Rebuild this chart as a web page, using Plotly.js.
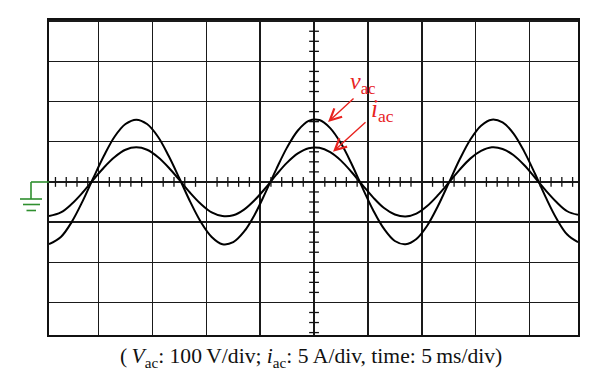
<!DOCTYPE html>
<html>
<head>
<meta charset="utf-8">
<script src="https://cdn.plot.ly/plotly-3.0.1.min.js"></script>
<style>html,body{margin:0;padding:0;background:#fff;}#chart{width:600px;height:391px;}</style>
</head>
<body>
<div id="chart"></div>
<script>
// time in ms (5 ms/div), amplitudes in divisions
var timeMs = [-24.6,-23.5,-22.5,-21.5,-20.5,-19.5,-18.5,-17.5,-16.5,-15.5,-14.5,-13.5,-12.5,-11.5,-10.5,-9.5,-8.5,-7.5,-6.5,-5.5,-4.5,-3.5,-2.5,-1.5,-0.5,0.5,1.5,2.5,3.5,4.5,5.5,6.5,7.5,8.5,9.5,10.5,11.5,12.5,13.5,14.5,15.5,16.5,17.5,18.5,19.5,20.5,21.5,22.5,23.5,24.5];
var vacDiv = [-1.55,-1.37,-1.00,-0.49,0.09,0.65,1.13,1.44,1.55,1.44,1.13,0.65,0.09,-0.49,-1.00,-1.37,-1.55,-1.50,-1.24,-0.81,-0.26,0.32,0.86,1.28,1.52,1.54,1.34,0.96,0.44,-0.15,-0.71,-1.17,-1.47,-1.55,-1.42,-1.09,-0.60,-0.03,0.55,1.05,1.40,1.55,1.48,1.21,0.76,0.21,-0.38,-0.91,-1.31,-1.50];
var iacDiv = [-0.85,-0.76,-0.55,-0.27,0.05,0.36,0.62,0.80,0.86,0.80,0.62,0.36,0.05,-0.27,-0.55,-0.76,-0.85,-0.83,-0.69,-0.45,-0.15,0.18,0.48,0.71,0.84,0.85,0.74,0.53,0.24,-0.08,-0.39,-0.65,-0.81,-0.86,-0.79,-0.60,-0.33,-0.02,0.30,0.58,0.77,0.86,0.82,0.67,0.42,0.11,-0.21,-0.50,-0.73,-0.82];

// minor tick positions on the centre graticule lines
var hTickX = [-24,-23,-22,-21,-19,-18,-17,-16,-14,-13,-12,-11,-9,-8,-7,-6,-4,-3,-2,-1,1,2,3,4,6,7,8,9,11,12,13,14,16,17,18,19,21,22,23,24];
var vTickY = [-3.75,-3.5,-3.25,-2.75,-2.5,-2.25,-1.75,-1.5,-1.25,-0.75,-0.5,-0.25,0.25,0.5,0.75,1.25,1.5,1.75,2.25,2.5,2.75,3.25,3.5,3.75];

var captionText = '(\u2009<i>V</i><sub>ac</sub>: 100\u2009V/div; <i>i</i><sub>ac</sub>: 5\u2009A/div, time: 5\u2009ms/div)';
var vLabel = '<i>v</i><sub>ac</sub>';
var iLabel = '<i>i</i><sub>ac</sub>';

var L = 49, R = 578, T = 20, B = 335;
function px(x){ return (x - L) / (R - L); }
function py(y){ return (B - y) / (B - T); }

var zerosH = hTickX.map(function(){ return 0; });
var zerosV = vTickY.map(function(){ return 0; });

var traces = [
  {x: timeMs, y: vacDiv, mode: 'lines', line: {color: '#000', width: 2, shape: 'spline', smoothing: 1}, hoverinfo: 'skip'},
  {x: timeMs, y: iacDiv, mode: 'lines', line: {color: '#000', width: 2, shape: 'spline', smoothing: 1}, hoverinfo: 'skip'},
  {x: hTickX, y: zerosH, mode: 'markers', marker: {symbol: 'line-ns-open', size: 7, color: '#111', line: {color: '#111', width: 1.3}}, hoverinfo: 'skip'},
  {x: zerosV, y: vTickY, mode: 'markers', marker: {symbol: 'line-ew-open', size: 7, color: '#111', line: {color: '#111', width: 1.3}}, hoverinfo: 'skip'}
];

var green = '#2f8f2f';
var red = '#e8231f';
function gline(x0, y0, x1, y1){
  return {type: 'line', xref: 'paper', yref: 'paper', x0: px(x0), y0: py(y0), x1: px(x1), y1: py(y1), line: {color: green, width: 1.6}};
}

var serif = 'Liberation Serif, Times New Roman, serif';

var layout = {
  width: 600, height: 391,
  margin: {l: L, r: 600 - R, t: T, b: 391 - B},
  paper_bgcolor: '#fff', plot_bgcolor: '#fff',
  showlegend: false,
  xaxis: {range: [-24.6, 24.5], dtick: 5, tick0: 0, showgrid: true, gridcolor: '#1a1a1a', gridwidth: 1.5,
          zeroline: false, showline: true, mirror: true, linecolor: '#111', linewidth: 2, showticklabels: false, ticks: '', fixedrange: true},
  yaxis: {range: [-3.81, 4.03], dtick: 1, tick0: 0, showgrid: true, gridcolor: '#1a1a1a', gridwidth: 1.5,
          zeroline: false, showline: true, mirror: true, linecolor: '#111', linewidth: 2, showticklabels: false, ticks: '', fixedrange: true},
  shapes: [
    gline(31, 182, 49, 182),
    gline(31, 182, 31, 199),
    gline(20, 199, 42, 199),
    gline(23, 204.5, 40, 204.5),
    gline(26.5, 210.5, 36, 210.5)
  ],
  annotations: [
    {x: 1.30, y: 1.49, xref: 'x', yref: 'y', ax: 27, ay: -25, text: '', showarrow: true, arrowcolor: red, arrowwidth: 1.4, arrowhead: 5, arrowsize: 1.6},
    {x: 1.76, y: 0.75, xref: 'x', yref: 'y', ax: 34, ay: -31, text: '', showarrow: true, arrowcolor: red, arrowwidth: 1.4, arrowhead: 5, arrowsize: 1.6},
    {x: px(348), y: py(83), xref: 'paper', yref: 'paper', text: vLabel, showarrow: false, xanchor: 'left', yanchor: 'middle',
     font: {family: serif, size: 24, color: red}},
    {x: px(369), y: py(111), xref: 'paper', yref: 'paper', text: iLabel, showarrow: false, xanchor: 'left', yanchor: 'middle',
     font: {family: serif, size: 25, color: red}},
    {x: px(311), y: py(357.5), xref: 'paper', yref: 'paper', text: captionText, showarrow: false, xanchor: 'center', yanchor: 'middle',
     font: {family: serif, size: 21.6, color: '#111'}}
  ]
};

Plotly.newPlot('chart', traces, layout, {displayModeBar: false, staticPlot: true});
</script>
</body>
</html>
